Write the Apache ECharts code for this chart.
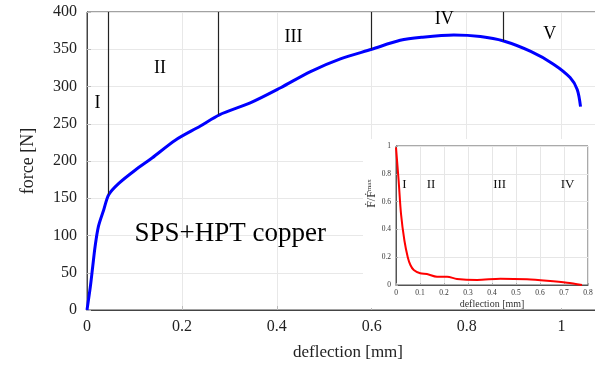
<!DOCTYPE html>
<html>
<head>
<meta charset="utf-8">
<script src="https://cdn.jsdelivr.net/npm/echarts@6/dist/echarts.min.js"></script>
<style>
  html, body { margin: 0; padding: 0; background: #fff; }
  #chart { width: 595px; height: 365px; }
</style>
</head>
<body>
<div id="chart"></div>
<script>
// force vs deflection
const forceCurve = [
  [0, 0], [0.007, 31], [0.012, 58], [0.017, 85], [0.024, 112], [0.035, 134],
  [0.046, 155], [0.067, 170], [0.102, 188], [0.137, 204], [0.186, 228],
  [0.239, 247], [0.279, 262], [0.344, 278], [0.407, 298], [0.471, 320],
  [0.534, 337], [0.6, 350], [0.66, 362], [0.705, 366], [0.773, 369],
  [0.829, 367], [0.878, 361], [0.935, 347], [0.983, 330], [1.018, 312],
  [1.033, 296], [1.04, 273]
]
// stage boundaries: deflection, force where the line meets the curve
const stageBounds = [[0.0455, 155], [0.277, 262], [0.6, 350], [0.877, 361]]
const stageLabels = [
  ['I', 0.022, 278], ['II', 0.154, 325], ['III', 0.435, 366],
  ['IV', 0.753, 390], ['V', 0.975, 370]
]
const sampleNote = ['SPS+HPT copper', 0.302, 102]

// inset: normalised force rate
const rateCurve = [
  [0, 0.99], [0.011, 0.75], [0.021, 0.51], [0.035, 0.32], [0.049, 0.2],
  [0.06, 0.144], [0.074, 0.108], [0.101, 0.084], [0.129, 0.079], [0.171, 0.06],
  [0.213, 0.06], [0.254, 0.043], [0.338, 0.036], [0.435, 0.045], [0.546, 0.041],
  [0.629, 0.031], [0.713, 0.017], [0.775, 0]
]
const rateBounds = [[0.06, 0.14], [0.254, 0.043], [0.601, 0.031]]
const rateLabels = [['I', 0.035, 0.72], ['II', 0.146, 0.72], ['III', 0.432, 0.72], ['IV', 0.715, 0.72]]

const serif = 'Liberation Serif'

const chart = echarts.init(document.getElementById('chart'))

const option = {
  animation: false,
  backgroundColor: '#fff',
  textStyle: { fontFamily: serif },
  grid: [
    {
      left: 87, top: 12, width: 522, height: 298,
      outerBoundsMode: 'none',
      show: true, borderColor: '#444', borderWidth: 1
    },
    {
      left: 396, top: 146, width: 192, height: 139,
      outerBoundsMode: 'none',
      show: true, borderColor: '#555', borderWidth: 1,
      backgroundColor: '#fff', z: 11
    }
  ],
  graphic: [
    {
      type: 'rect', z: 10, silent: true,
      shape: { x: 363, y: 139, width: 232, height: 169 },
      style: { fill: '#fff' }
    }
  ],
  xAxis: [
    {
      gridIndex: 0, type: 'value', min: 0, max: 1.1, interval: 0.2,
      name: 'deflection [mm]', nameLocation: 'middle', nameGap: 34,
      nameTextStyle: { fontSize: 17, color: '#222', fontFamily: serif },
      axisLine: { lineStyle: { color: '#444' } },
      axisTick: { inside: true, length: 4, lineStyle: { color: '#bbb' } },
      axisLabel: { fontSize: 16, color: '#222', margin: 9, showMaxLabel: false, fontFamily: serif },
      splitLine: { lineStyle: { color: '#e8e8e8' } }
    },
    {
      gridIndex: 1, type: 'value', min: 0, max: 0.8, interval: 0.1, z: 12,
      name: 'deflection [mm]', nameLocation: 'middle', nameGap: 14,
      nameTextStyle: { fontSize: 10, color: '#333', fontFamily: serif },
      axisLine: { lineStyle: { color: '#555' } },
      axisTick: { inside: true, length: 2, lineStyle: { color: '#aaa' } },
      axisLabel: { fontSize: 7.5, color: '#333', margin: 4, fontFamily: serif },
      splitLine: { lineStyle: { color: '#e6e6e6' } }
    }
  ],
  yAxis: [
    {
      gridIndex: 0, type: 'value', min: 0, max: 400, interval: 50,
      name: 'force [N]', nameLocation: 'middle', nameGap: 50,
      nameTextStyle: { fontSize: 18, color: '#222', fontFamily: serif },
      axisLine: { show: true, lineStyle: { color: '#444' } },
      axisTick: { inside: true, length: 4, lineStyle: { color: '#bbb' } },
      axisLabel: { fontSize: 16, color: '#222', margin: 10, fontFamily: serif },
      splitLine: { lineStyle: { color: '#e8e8e8' } }
    },
    {
      gridIndex: 1, type: 'value', min: 0, max: 1, interval: 0.2, z: 12,
      name: '{a|Ḟ/Ḟ}{b|max}', nameLocation: 'middle', nameGap: 18,
      nameTextStyle: {
        color: '#333', padding: [0, 0, 0, 44],
        rich: {
          a: { fontSize: 12, fontFamily: serif, color: '#333' },
          b: { fontSize: 7, fontFamily: serif, color: '#333', verticalAlign: 'top' }
        }
      },
      axisLine: { show: true, lineStyle: { color: '#555' } },
      axisTick: { inside: true, length: 2, lineStyle: { color: '#aaa' } },
      axisLabel: { fontSize: 7.5, color: '#333', margin: 5, fontFamily: serif },
      splitLine: { lineStyle: { color: '#e6e6e6' } }
    }
  ],
  series: [
    {
      name: 'force',
      type: 'line',
      xAxisIndex: 0,
      yAxisIndex: 0,
      showSymbol: false,
      smooth: 0.3,
      color: '#0000ff',
      lineStyle: { width: 3 },
      data: forceCurve,
      markLine: {
        silent: true,
        symbol: ['none', 'none'],
        label: { show: false },
        lineStyle: { color: '#222', type: 'solid', width: 1.2 },
        data: stageBounds.map(([x, y]) => [{ coord: [x, 400] }, { coord: [x, y] }])
      }
    },
    {
      name: 'stages',
      type: 'scatter',
      xAxisIndex: 0,
      yAxisIndex: 0,
      symbolSize: 0,
      z: 5,
      itemStyle: { opacity: 1 },
      label: {
        show: true, position: 'inside', formatter: '{b}',
        fontSize: 18, color: '#000', fontFamily: serif
      },
      data: stageLabels.map(([n, x, y]) => ({ name: n, value: [x, y] })).concat([
        {
          name: sampleNote[0], value: [sampleNote[1], sampleNote[2]],
          label: { fontSize: 27 }
        }
      ])
    },
    {
      name: 'rate',
      type: 'line',
      xAxisIndex: 1,
      yAxisIndex: 1,
      z: 13,
      showSymbol: false,
      smooth: 0.3,
      color: '#ff0000',
      lineStyle: { width: 2 },
      data: rateCurve,
      markLine: {
        silent: true,
        symbol: ['none', 'none'],
        label: { show: false },
        lineStyle: { color: '#333', type: 'solid', width: 1.3 },
        data: rateBounds.map(([x, y]) => [{ coord: [x, 1] }, { coord: [x, y] }])
      }
    },
    {
      name: 'rate stages',
      type: 'scatter',
      xAxisIndex: 1,
      yAxisIndex: 1,
      symbolSize: 0,
      z: 14,
      itemStyle: { opacity: 1 },
      label: {
        show: true, position: 'inside', formatter: '{b}',
        fontSize: 13, color: '#111', fontFamily: serif
      },
      data: rateLabels.map(([n, x, y]) => ({ name: n, value: [x, y] }))
    }
  ]
}

chart.setOption(option)
</script>
</body>
</html>
